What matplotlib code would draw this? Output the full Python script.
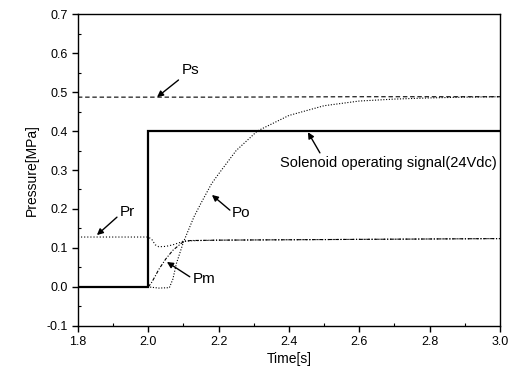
import matplotlib
matplotlib.use("Agg")
import matplotlib.pyplot as plt
import numpy as np
from matplotlib.ticker import MultipleLocator

plt.rcParams['font.family'] = ['Liberation Sans', 'DejaVu Sans']

# Solenoid operating signal
sol_t = [1.8, 2.0, 2.0, 3.0]
sol_v = [0.0, 0.0, 0.4, 0.4]

# Supply pressure Ps
ps_t = [1.8, 2.2, 2.6, 3.0]
ps_v = [0.487, 0.487, 0.488, 0.488]

# Return pressure Pr
pr_t = [1.8, 1.9, 2.0, 2.01, 2.02, 2.03, 2.05, 2.07, 2.09, 2.1, 2.2, 2.4, 2.6, 2.8, 3.0]
pr_v = [0.128, 0.128, 0.128, 0.122, 0.108, 0.103, 0.104, 0.108, 0.114, 0.118, 0.12, 0.121, 0.122, 0.123, 0.124]

# Pm
pm_t = [2.0, 2.01, 2.02, 2.03, 2.05, 2.07, 2.09, 2.1, 2.12, 2.2, 2.4, 2.6, 2.8, 3.0]
pm_v = [0.0, 0.012, 0.028, 0.045, 0.072, 0.094, 0.109, 0.116, 0.119, 0.12, 0.121, 0.122, 0.123, 0.124]

# Po
po_t = [1.8, 2.0, 2.03, 2.06, 2.07, 2.08, 2.1, 2.13, 2.15, 2.18, 2.2, 2.25, 2.31, 2.4, 2.5, 2.6, 2.7, 2.8, 2.9, 3.0]
po_v = [0.0, 0.0, -0.003, -0.002, 0.02, 0.06, 0.115, 0.18, 0.215, 0.265, 0.29, 0.35, 0.40, 0.44, 0.465, 0.477, 0.482, 0.485, 0.487, 0.488]

# Annotations: label, text position, arrow tail, arrow head
ann_labels = ['Ps', 'Pr', 'Pm', 'Po', 'Solenoid operating signal(24Vdc)']
ann_text_xy = [(2.095, 0.556), (1.919, 0.192), (2.127, 0.02), (2.238, 0.19), (2.375, 0.318)]
ann_tail_xy = [(2.086, 0.531), (1.911, 0.179), (2.118, 0.026), (2.232, 0.197), (2.488, 0.344)]
ann_head_xy = [(2.025, 0.487), (1.854, 0.133), (2.053, 0.064), (2.181, 0.236), (2.454, 0.397)]

fig = plt.figure(figsize=(5.16, 3.72), dpi=100)
ax = fig.add_axes([0.151, 0.124, 0.818, 0.838])

ax.plot(sol_t, sol_v, color='black', lw=1.6, solid_joinstyle='miter')
ax.plot(ps_t, ps_v, color='black', lw=0.8, linestyle=(0, (4, 2.5)))
ax.plot(pr_t, pr_v, color='black', lw=0.8, linestyle=(0, (1, 1.8)))
ax.plot(pm_t, pm_v, color='black', lw=0.8, linestyle=(0, (3, 1.5, 1, 1.5)))
ax.plot(po_t, po_v, color='black', lw=0.8, linestyle=(0, (1, 1.5)))

ax.set_xlim(1.8, 3.0)
ax.set_ylim(-0.1, 0.7)
ax.xaxis.set_major_locator(MultipleLocator(0.2))
ax.xaxis.set_minor_locator(MultipleLocator(0.1))
ax.yaxis.set_major_locator(MultipleLocator(0.1))
ax.yaxis.set_minor_locator(MultipleLocator(0.05))
ax.xaxis.set_major_formatter(matplotlib.ticker.FormatStrFormatter('%.1f'))
ax.yaxis.set_major_formatter(matplotlib.ticker.FormatStrFormatter('%.1f'))
ax.tick_params(which='major', direction='out', length=4, width=1, labelsize=9)
ax.tick_params(which='minor', direction='in', length=2.5, width=0.8)
for s in ax.spines.values():
    s.set_linewidth(1.0)

ax.set_xlabel('Time[s]', fontsize=10, labelpad=3)
ax.set_ylabel('Pressure[MPa]', fontsize=10, labelpad=5)

for lab, txy, tail, head in zip(ann_labels, ann_text_xy, ann_tail_xy, ann_head_xy):
    fs = 10.5 if len(lab) > 3 else 11
    ax.text(txy[0], txy[1], lab, fontsize=fs, ha='left', va='center')
    ax.annotate('', xy=head, xytext=tail,
                arrowprops=dict(arrowstyle='-|>', color='black', lw=1.0,
                                mutation_scale=9, shrinkA=0, shrinkB=0))

fig.savefig('out.png', dpi=100)
